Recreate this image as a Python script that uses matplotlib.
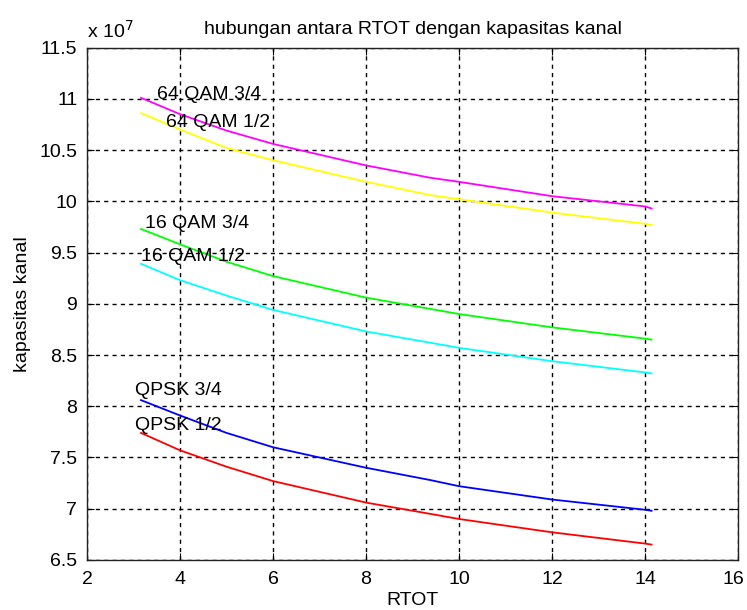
import matplotlib
matplotlib.use("Agg")
import matplotlib.pyplot as plt
from matplotlib.transforms import ScaledTranslation

plt.rcParams['font.family'] = ['Liberation Sans', 'DejaVu Sans']

# RTOT values where the curves were read
rtot = [3.16, 4, 5, 6, 8, 9.38, 10, 12, 14, 14.14]

# kapasitas kanal, in units of 1e7
qam64_34 = [11.01, 10.85, 10.69, 10.56, 10.35, 10.23, 10.19, 10.05, 9.95, 9.93]
qam64_12 = [10.86, 10.70, 10.52, 10.40, 10.19, 10.06, 10.02, 9.89, 9.78, 9.77]
qam16_34 = [9.73, 9.58, 9.41, 9.27, 9.06, 8.95, 8.90, 8.77, 8.66, 8.65]
qam16_12 = [9.39, 9.23, 9.08, 8.94, 8.73, 8.62, 8.57, 8.44, 8.33, 8.32]
qpsk_34 = [8.06, 7.91, 7.74, 7.60, 7.40, 7.28, 7.22, 7.09, 6.99, 6.98]
qpsk_12 = [7.74, 7.57, 7.41, 7.27, 7.06, 6.95, 6.90, 6.77, 6.66, 6.65]

series = [
    (qam64_34, '#ff00ff', '64 QAM 3/4', (3.5, 11.04)),
    (qam64_12, '#ffff00', '64 QAM 1/2', (3.7, 10.77)),
    (qam16_34, '#00ff00', '16 QAM 3/4', (3.25, 9.78)),
    (qam16_12, '#00ffff', '16 QAM 1/2', (3.15, 9.46)),
    (qpsk_34, '#0000ff', 'QPSK 3/4', (3.03, 8.15)),
    (qpsk_12, '#ff0000', 'QPSK 1/2', (3.03, 7.81)),
]

xticks = [2, 4, 6, 8, 10, 12, 14, 16]
yticks = [6.5, 7, 7.5, 8, 8.5, 9, 9.5, 10, 10.5, 11, 11.5]

fig = plt.figure(figsize=(7.47, 6.10), dpi=100)
ax = fig.add_axes([0.1165, 0.082, 0.8715, 0.840])

for vals, col, lab, pos in series:
    ax.plot(rtot, vals, color=col, linewidth=1.3)
    ax.text(pos[0], pos[1], lab, fontsize=14, ha='left', va='center', color='black')

ax.set_xlim(2, 16)
ax.set_ylim(6.5, 11.5)
ax.set_xticks(xticks)
ax.set_yticks(yticks)
ax.set_xticklabels([str(t) for t in xticks])
ax.set_yticklabels([('%g' % t) for t in yticks])
ax.tick_params(direction='in', top=True, right=True, labelsize=14, length=5, colors='black')
ax.tick_params(axis='x', pad=8)
ax.tick_params(axis='y', pad=7)
ax.grid(True, color='black', linestyle=(0, (3, 3)), linewidth=1)
for s in ax.spines.values():
    s.set_linewidth(1)
    s.set_color('#222222')

# keep the last x tick label inside the figure
last = ax.get_xticklabels()[-1]
last.set_transform(last.get_transform() + ScaledTranslation(-3 / 72, 0, fig.dpi_scale_trans))

ax.set_xlabel('RTOT', fontsize=14, labelpad=3)
ax.set_ylabel('kapasitas kanal', fontsize=14, labelpad=6)
ax.set_title('hubungan antara RTOT dengan kapasitas kanal', fontsize=14, pad=10)
ax.text(0, 1.012, r'x 10$^7$', transform=ax.transAxes, fontsize=14, ha='left', va='bottom')

fig.savefig('out.png', dpi=100, facecolor='white')
